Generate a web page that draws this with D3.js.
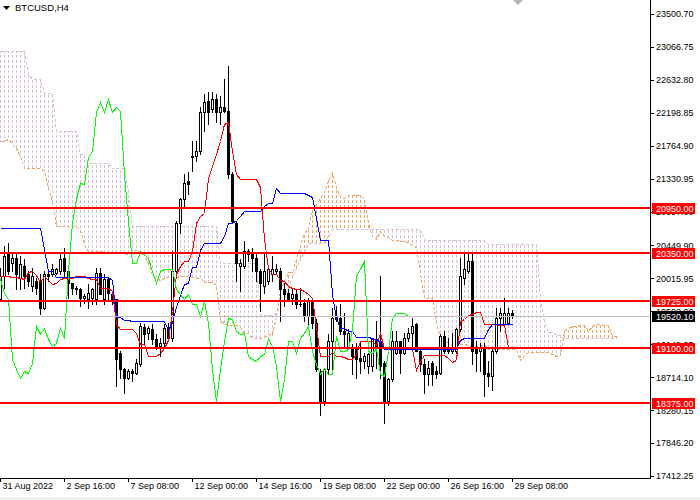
<!DOCTYPE html>
<html>
<head>
<meta charset="utf-8">
<script src="https://cdn.jsdelivr.net/npm/d3@7"></script>
<style>
  html, body { margin: 0; padding: 0; background: #fff; }
  svg { display: block; }
</style>
</head>
<body>
<div id="chart"></div>
<script>
const symbolTitle = 'BTCUSD,H4'

const priceTicks = [23500.70, 23066.75, 22632.80, 22198.85, 21764.90, 21330.95, 20897.00,
  20449.90, 20015.95, 19582.00, 19148.05, 18714.10, 18280.15, 17846.20, 17412.25]

const timeLabels = ['31 Aug 2022', '2 Sep 16:00', '7 Sep 08:00', '12 Sep 00:00', '14 Sep 16:00',
  '19 Sep 08:00', '22 Sep 00:00', '26 Sep 16:00', '29 Sep 08:00']
const timeLabelBars = [0, 16, 32, 48, 64, 80, 96, 112, 128]

const levels = [20950, 20350, 19725, 19100, 18375]
const lastPrice = 19520.10
const chikouShift = 26

// H4 candles, oldest first
const opens = [
  19740, 20048, 20334, 20224, 20290, 20026, 20180, 20070, 19916, 19982,
  19982, 19630, 20070, 20070, 20092, 20114, 20290, 20114, 19960, 19894,
  19872, 19762, 19740, 19762, 19740, 20092, 19740, 20004, 19806, 19740,
  19036, 18816, 18706, 18794, 18772, 18882, 19380, 19300, 19344, 19212,
  19124, 19168, 19366, 19234, 20114, 20752, 21060, 21302, 21632, 21632,
  21698, 22204, 22358, 22248, 22380, 22204, 22270, 22226, 21390, 20752,
  20180, 20180, 20378, 20334, 20290, 20114, 19916, 19982, 20070, 20114,
  20114, 19872, 19828, 19762, 19806, 19674, 19696, 19520, 19718, 19432,
  18794, 18398, 18816, 19190, 19520, 19498, 19322, 19102, 19102, 19080,
  18970, 18926, 18860, 18860, 19212, 19190, 18904, 18398, 18684, 19036,
  19190, 19036, 19234, 19300, 19410, 19058, 18882, 18750, 18904, 18794,
  18772, 19256, 19102, 19058, 19058, 19344, 20026, 20114, 20246, 19102,
  19058, 19080, 18772, 18728, 19058, 19498, 19410, 19432, 19564]
const highs = [
  20158, 20444, 20488, 20334, 20334, 20312, 20268, 20114, 20158, 20026,
  20070, 20114, 20114, 20202, 20158, 20334, 20422, 20158, 19960, 19916,
  19894, 19806, 19938, 19894, 20158, 20158, 20070, 20026, 19850, 19740,
  19058, 18838, 18816, 18816, 18948, 19432, 19410, 19388, 19410, 19278,
  19234, 19410, 19432, 20378, 20774, 21082, 21390, 21412, 21830, 21830,
  22270, 22446, 22468, 22468, 22446, 22424, 22644, 22820, 21412, 20774,
  20268, 20510, 20400, 20422, 20334, 20136, 20334, 20180, 20312, 20202,
  20158, 19960, 19872, 19872, 19872, 19894, 19740, 19762, 19740, 19476,
  18816, 18838, 19278, 19630, 19652, 19674, 19564, 19344, 19146, 19168,
  19168, 19036, 19036, 19234, 19454, 20048, 18926, 18706, 19322, 19322,
  19190, 19300, 19366, 19498, 19432, 19080, 18948, 18926, 18926, 18860,
  19278, 19322, 19234, 19300, 19366, 20290, 20356, 20334, 20334, 19190,
  19168, 19168, 18926, 19080, 19630, 19630, 19762, 19630, 19600]
const lows = [
  19718, 19894, 20070, 20114, 19872, 19872, 19894, 19916, 19850, 19806,
  19551, 19608, 19982, 20048, 20070, 20070, 20026, 19762, 19806, 19806,
  19652, 19696, 19630, 19674, 19674, 19806, 19674, 19718, 19674, 18596,
  18706, 18508, 18684, 18662, 18750, 18860, 19168, 19212, 19146, 19080,
  18992, 19124, 19212, 19190, 20070, 20620, 20950, 21126, 21434, 21566,
  21654, 21962, 22050, 22204, 22072, 22050, 22204, 21346, 20752, 19982,
  19850, 20158, 20246, 20114, 19982, 19586, 19828, 19938, 19982, 20070,
  19454, 19652, 19740, 19674, 19630, 19652, 19454, 19410, 19366, 18794,
  18222, 18354, 18750, 18794, 19454, 19278, 19102, 19080, 18750, 18706,
  18772, 18838, 18772, 18794, 18838, 18706, 18112, 18354, 18662, 19014,
  18772, 19014, 19190, 19080, 19058, 18794, 18508, 18618, 18618, 18706,
  18750, 19036, 19036, 19036, 19036, 19322, 19938, 20092, 18882, 18794,
  18794, 18464, 18596, 18552, 19036, 19322, 19410, 19410, 19500]
const closes = [
  20048, 20312, 20114, 20290, 20070, 20202, 20048, 19982, 20048, 19894,
  19630, 20070, 20048, 20136, 20136, 20268, 20114, 19960, 19894, 19872,
  19762, 19784, 19828, 19872, 20092, 19806, 20004, 19828, 19740, 18948,
  18816, 18706, 18794, 18772, 18904, 19388, 19278, 19366, 19212, 19124,
  19168, 19366, 19234, 20114, 20752, 21060, 21280, 21258, 21610, 21698,
  22204, 22336, 22204, 22380, 22204, 22270, 22226, 21390, 20774, 20224,
  20224, 20378, 20334, 20290, 20114, 19960, 20114, 20136, 20136, 20136,
  19872, 19806, 19740, 19806, 19674, 19674, 19520, 19718, 19432, 18816,
  18398, 18816, 19190, 19498, 19476, 19322, 19278, 19300, 18992, 18948,
  18926, 18992, 19014, 19212, 19124, 18860, 18398, 18684, 19190, 19190,
  19036, 19234, 19300, 19388, 19058, 18882, 18750, 18838, 18750, 18760,
  19256, 19058, 19058, 19080, 19344, 20048, 20136, 20246, 19058, 19036,
  19102, 18750, 18728, 19058, 19498, 19564, 19564, 19564, 19520.10]

// Ichimoku lines
const tenkan = [
  20048, 20048, 20048, 20040, 20030, 20026, 20004, 20100, 20110, 20060,
  19970, 20048, 20000, 19938, 19960, 20004, 20026, 20026, 20026, 20048,
  20048, 20048, 20026, 20010, 20004, 19894, 19894, 19894, 19850, 19410,
  19344, 19344, 19344, 19344, 19300, 19146, 19146, 18992, 18992, 18992,
  19036, 19102, 19200, 19586, 20070, 20180, 20246, 20246, 20378, 20752,
  20840, 20880, 21346, 21500, 21654, 21830, 22050, 22072, 21700, 21390,
  21324, 21324, 21324, 21324, 21324, 21216, 20530, 20150, 20070, 20070,
  20000, 19980, 19916, 19894, 19872, 19872, 19850, 19806, 19762, 19377,
  18990, 18990, 18990, 19040, 18992, 18992, 18981, 18948, 18948, 19014,
  19190, 19190, 19190, 19190, 19135, 19300, 19080, 19080, 19080, 19080,
  19080, 19080, 19080, 19080, 18805, 18926, 19003, 19003, 19003, 19003,
  19003, 19003, 18970, 18915, 18937, 19454, 19487, 19531, 19553, 19575,
  19575, 19410, 19410, 19410, 19410, 19399, 19399, 19113, 19113]
const kijun = [
  20677, 20677, 20677, 20677, 20677, 20677, 20677, 20677, 20677, 20677,
  20677, 20400, 20114, 20114, 20040, 20040, 20040, 20040, 20040, 20040,
  20040, 20040, 20040, 20040, 20040, 20040, 20040, 20040, 20000, 19509,
  19509, 19465, 19465, 19460, 19460, 19460, 19460, 19460, 19460, 19460,
  19460, 19460, 19333, 19443, 19641, 19795, 19949, 19960, 20169, 20169,
  20389, 20477, 20488, 20488, 20488, 20488, 20576, 20741, 20741, 20785,
  20840, 20906, 20906, 20906, 20906, 20906, 20972, 21005, 21005, 21203,
  21137, 21137, 21137, 21137, 21137, 21137, 21137, 21115, 21093, 20807,
  20521, 20521, 20521, 19817, 19498, 19366, 19366, 19322, 19322, 19250,
  19250, 19250, 19250, 19230, 19200, 19190, 19080, 19080, 19080, 19080,
  19080, 19080, 19080, 19080, 19080, 19080, 19080, 19080, 19080, 19080,
  19080, 19080, 19080, 19080, 19080, 19201, 19234, 19234, 19234, 19234,
  19234, 19234, 19355, 19410, 19410, 19410, 19410, 19410, 19410]
// Senkou spans, already shifted 26 bars ahead
const spanA = [
  21830, 21830, 21850, 21790, 21740, 21630, 21476, 21476, 21476, 21476,
  21476, 21436, 21213, 21040, 20713, 20713, 20713, 20713, 20713, 20713,
  20650, 20450, 20372, 20372, 20372, 20372, 20362, 20362, 20362, 20358,
  20353, 20351, 20340, 20388, 20393, 20368, 20323, 20224, 20057, 20026,
  20000, 20022, 20033, 20033, 20033, 20044, 20044, 20044, 20033, 20025,
  20022, 19967, 19967, 19967, 19925, 19460, 19427, 19405, 19405, 19402,
  19380, 19303, 19303, 19226, 19226, 19226, 19248, 19281, 19267, 19515,
  19855, 19988, 20097, 20103, 20273, 20460, 20615, 20678, 20917, 20994,
  21071, 21159, 21313, 21406, 21220, 21088, 21082, 21115, 21115, 21115,
  21115, 21061, 20751, 20578, 20538, 20637, 20569, 20559, 20527, 20516,
  20505, 20505, 20494, 20461, 20428, 20092, 19756, 19756, 19756, 19429,
  19245, 19179, 19174, 19135, 19135, 19146, 19150, 19140, 19130, 19130,
  19120, 19150, 19080, 19080, 19080, 19080, 19080, 19080, 19080, 19080,
  18943, 19003, 19042, 19042, 19042, 19042, 19042, 19042, 19025, 18998,
  19009, 19328, 19361, 19383, 19394, 19405, 19405, 19322, 19383, 19410,
  19410, 19405, 19405, 19262, 19262]
const spanB = [
  23013, 23013, 23013, 23013, 23013, 23013, 23013, 22711, 22645, 22645,
  22645, 22461, 22461, 22461, 21962, 21962, 21962, 21962, 21962, 21962,
  21650, 21650, 21541, 21541, 21541, 21541, 21541, 21541, 21476, 21476,
  21476, 21476, 21147, 20713, 20713, 20713, 20713, 20713, 20713, 20713,
  20713, 20713, 20713, 20713, 20713, 20713, 20713, 20713, 20713, 20713,
  20713, 20713, 20713, 20713, 20713, 20214, 20214, 20214, 20214, 20214,
  20214, 20214, 20214, 20214, 20214, 19531, 19531, 19531, 19531, 19560,
  19650, 19760, 19900, 20030, 20150, 20270, 20380, 20477, 20488, 20488,
  20488, 20488, 20576, 20664, 20664, 20664, 20664, 20664, 20664, 20664,
  20664, 20664, 20664, 20664, 20664, 20664, 20664, 20664, 20664, 20664,
  20664, 20664, 20664, 20664, 20664, 20664, 20521, 20521, 20521, 20521,
  20521, 20521, 20521, 20521, 20521, 20521, 20521, 20521, 20521, 20521,
  20521, 20521, 20466, 20466, 20466, 20466, 20466, 20466, 20466, 20466,
  20466, 20466, 20466, 20466, 20466, 19762, 19443, 19311, 19311, 19267,
  19267, 19223, 19234, 19234, 19234, 19234, 19234, 19234, 19234, 19234,
  19234, 19234, 19234, 19234, 19234]

const width = 700
const height = 500
const plotW = 650
const plotH = 478
const font = '"Liberation Sans", Arial, sans-serif'

const x = d3.scaleLinear().domain([0, 162.5]).range([0, plotW])
const y = d3.scaleLinear().domain([17412.25, 23500.70]).range([476, 14])

// pixel helpers so everything lands on whole pixels like the terminal does
const px = i => Math.round(x(i))
const py = v => Math.round(y(v))

const svg = d3.select('#chart').append('svg')
  .attr('width', width)
  .attr('height', height)
  .style('font-family', font)

svg.append('rect').attr('width', width).attr('height', height).attr('fill', '#fff')

svg.append('defs').append('clipPath').attr('id', 'plotClip')
  .append('rect').attr('x', 0).attr('y', 0).attr('width', plotW).attr('height', plotH)

const plot = svg.append('g').attr('clip-path', 'url(#plotClip)')

// kumo hatching
const hatch = plot.append('g').attr('shape-rendering', 'crispEdges')
hatch.selectAll('line')
  .data(d3.range(spanA.length))
  .join('line')
  .attr('x1', i => px(i) + 0.5)
  .attr('x2', i => px(i) + 0.5)
  .attr('y1', i => Math.min(py(spanA[i]), py(spanB[i])))
  .attr('y2', i => Math.max(py(spanA[i]), py(spanB[i])) + 1)
  .attr('stroke', i => spanA[i] > spanB[i] ? '#F4A460' : '#D8BFD8')
  .attr('stroke-width', 1)
  .attr('stroke-dasharray', '3,2')
  .attr('stroke-dashoffset', i => Math.min(py(spanA[i]), py(spanB[i])) % 5)

const dotLine = d3.line().x((d, i) => px(i) + 0.5).y(d => py(d) + 0.5)

plot.append('path').datum(spanB)
  .attr('d', dotLine)
  .attr('fill', 'none')
  .attr('stroke', '#D8BFD8')
  .attr('stroke-dasharray', '3,2')
  .attr('shape-rendering', 'crispEdges')

plot.append('path').datum(spanA)
  .attr('d', dotLine)
  .attr('fill', 'none')
  .attr('stroke', '#F4A460')
  .attr('stroke-dasharray', '3,2')
  .attr('shape-rendering', 'crispEdges')

// candles
const candles = plot.append('g').attr('shape-rendering', 'crispEdges')
const bars = candles.selectAll('g')
  .data(d3.range(closes.length))
  .join('g')

bars.append('rect')
  .attr('x', i => px(i))
  .attr('y', i => py(highs[i]))
  .attr('width', 1)
  .attr('height', i => py(lows[i]) - py(highs[i]) + 1)
  .attr('fill', '#000')

bars.append('rect')
  .attr('x', i => px(i) - 1)
  .attr('y', i => Math.min(py(opens[i]), py(closes[i])))
  .attr('width', 3)
  .attr('height', i => Math.abs(py(opens[i]) - py(closes[i])) + 1)
  .attr('fill', '#000')

bars.filter(i => closes[i] > opens[i] && py(opens[i]) - py(closes[i]) > 1)
  .append('rect')
  .attr('x', i => px(i))
  .attr('y', i => py(closes[i]) + 1)
  .attr('width', 1)
  .attr('height', i => py(opens[i]) - py(closes[i]) - 1)
  .attr('fill', '#fff')

// tenkan, kijun, chikou
const line = d3.line().x((d, i) => px(i) + 0.5).y(d => py(d) + 0.5)

plot.append('path').datum(tenkan)
  .attr('d', line).attr('fill', 'none').attr('stroke', '#FF0000')
  .attr('shape-rendering', 'crispEdges')

plot.append('path').datum(kijun)
  .attr('d', line).attr('fill', 'none').attr('stroke', '#0000FF')
  .attr('shape-rendering', 'crispEdges')

const chikouLine = d3.line().x((d, i) => px(i - chikouShift) + 0.5).y(d => py(d) + 0.5)
plot.append('path').datum(closes)
  .attr('d', chikouLine).attr('fill', 'none').attr('stroke', '#00FF00')
  .attr('shape-rendering', 'crispEdges')

// current bid line
plot.append('line')
  .attr('x1', 0).attr('x2', plotW)
  .attr('y1', py(lastPrice) + 0.5).attr('y2', py(lastPrice) + 0.5)
  .attr('stroke', '#C0C0C0')
  .attr('shape-rendering', 'crispEdges')

// horizontal levels
plot.selectAll('.level')
  .data(levels)
  .join('line')
  .attr('class', 'level')
  .attr('x1', 0).attr('x2', plotW)
  .attr('y1', d => py(d)).attr('y2', d => py(d))
  .attr('stroke', '#FF0000')
  .attr('stroke-width', 2)
  .attr('shape-rendering', 'crispEdges')

// price scale
const yAxis = g => g
  .attr('transform', `translate(${plotW},0)`)
  .call(d3.axisRight(y)
    .tickValues(priceTicks)
    .tickFormat(d3.format('.2f'))
    .tickSize(4)
    .tickPadding(2)
    .tickSizeOuter(0))
  .call(g => g.select('.domain').remove())
  .call(g => g.selectAll('line').attr('stroke', '#000').attr('shape-rendering', 'crispEdges'))
  .call(g => g.selectAll('text').attr('fill', '#000'))
  .attr('font-size', 9)
  .attr('font-family', font)

svg.append('g').call(yAxis)

// time scale
const xAxis = g => g
  .attr('transform', `translate(0,${plotH})`)
  .call(d3.axisBottom(x)
    .tickValues(timeLabelBars)
    .tickFormat((d, i) => timeLabels[i])
    .tickSize(4)
    .tickSizeOuter(0))
  .call(g => g.select('.domain').remove())
  .call(g => g.selectAll('line').attr('stroke', '#000').attr('shape-rendering', 'crispEdges'))
  .call(g => g.selectAll('text')
    .attr('fill', '#000')
    .attr('text-anchor', 'start')
    .attr('x', 2)
    .attr('y', 5))
  .attr('font-size', 9)
  .attr('font-family', font)

svg.append('g').call(xAxis)

// frame
svg.append('line')
  .attr('x1', plotW + 0.5).attr('x2', plotW + 0.5)
  .attr('y1', 0).attr('y2', plotH + 1)
  .attr('stroke', '#000').attr('shape-rendering', 'crispEdges')
svg.append('line')
  .attr('x1', 0).attr('x2', plotW + 1)
  .attr('y1', plotH + 0.5).attr('y2', plotH + 0.5)
  .attr('stroke', '#000').attr('shape-rendering', 'crispEdges')

// price tags on the scale
const tags = svg.append('g')
const tagData = levels.map(v => ({ v, fill: '#FF0000' }))
  .concat([{ v: lastPrice, fill: '#000' }])

tags.selectAll('rect')
  .data(tagData)
  .join('rect')
  .attr('x', plotW + 2)
  .attr('y', d => py(d.v) - 5)
  .attr('width', 43)
  .attr('height', 11)
  .attr('fill', d => d.fill)
  .attr('shape-rendering', 'crispEdges')

tags.selectAll('text')
  .data(tagData)
  .join('text')
  .attr('x', plotW + 6)
  .attr('y', d => py(d.v) + 0.5)
  .attr('dy', '0.34em')
  .attr('fill', '#fff')
  .attr('font-size', 9)
  .text(d => d3.format('.2f')(d.v))

// title
svg.append('path')
  .attr('d', d3.line()([[3, 6], [10, 6], [6.5, 10]]) + 'Z')
  .attr('fill', '#000')
svg.append('text')
  .attr('x', 15)
  .attr('y', 11)
  .attr('font-size', 9.5)
  .attr('fill', '#000')
  .text(symbolTitle)

// chart shift marker
const shiftX = px(closes.length) + 2
svg.append('path')
  .attr('d', d3.line()([[shiftX - 5, 0], [shiftX + 5, 0], [shiftX, 5]]) + 'Z')
  .attr('fill', '#B4B4B4')

svg.append('rect')
  .attr('x', 0).attr('y', 497).attr('width', width).attr('height', 3)
  .attr('fill', '#EEEEEE')
</script>
</body>
</html>
